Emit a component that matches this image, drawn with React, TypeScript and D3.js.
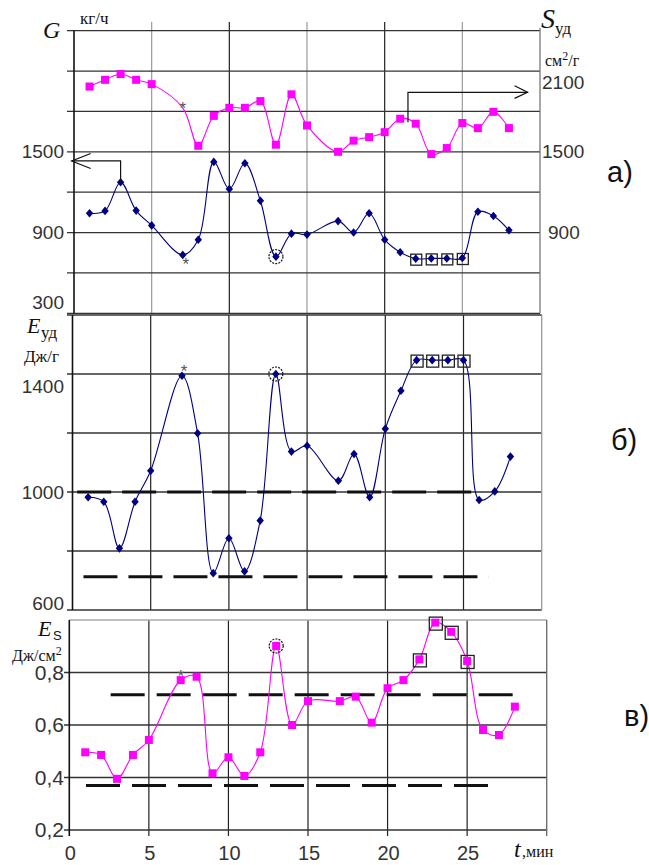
import React from "react";
import * as d3 from "d3";

// minutes at which a point was recorded (no readings at 6 and 16)
const tMin = [1, 2, 3, 4, 5, 7, 8, 9, 10, 11, 12, 13, 14, 15, 17, 18, 19, 20, 21, 22, 23, 24, 25, 26, 27, 28];
// G, кг/ч
const gFlow = [1043, 1061, 1274, 1063, 953, 734, 847, 1425, 1224, 1415, 1136, 721, 892, 885, 985, 900, 1043, 847, 754, 706, 708, 708, 711, 1055, 1023, 917];
// S_уд, см2/г
const sSpec = [1985, 2035, 2078, 2035, 2003, 1827, 1545, 1767, 1827, 1827, 1877, 1553, 1927, 1696, 1500, 1583, 1609, 1646, 1746, 1709, 1483, 1528, 1714, 1676, 1797, 1676];
// E_уд, Дж/г
const eSpec = [982, 967, 809, 967, 1072, 1394, 1199, 725, 843, 731, 903, 1400, 1137, 1157, 1038, 1129, 982, 1214, 1343, 1447, 1447, 1447, 1447, 973, 1002, 1120];
// E_S, Дж/см2
const eSurf = [0.496, 0.486, 0.395, 0.486, 0.543, 0.771, 0.784, 0.416, 0.477, 0.406, 0.496, 0.901, 0.6, 0.691, 0.691, 0.708, 0.609, 0.74, 0.771, 0.85, 0.99, 0.955, 0.844, 0.581, 0.562, 0.67];

const tTicks = [0, 5, 10, 15, 20, 25];
const gLabels = [1500, 900, 300];
const sLabels = [2100, 1500, 900];
const eudLabels = [1400, 1000, 600];
const esLabels = [0.2, 0.4, 0.6, 0.8];

const starT = 7;
const circleT = 13;
const boxT = [22, 23, 24, 25];

// threshold lines (value, from t, to t)
const eudLimits = [1000, 713];
const eudSpans = [[0.3, 26.2], [0.7, 26.6]];
const esLimits = [0.715, 0.37];
const esSpans = [[2.6, 28.1], [1.05, 26.6]];

const NAVY = "#000080";
const MAG = "#ff00ff";
const SANS = "'Liberation Sans', Arial, sans-serif";
const SERIF = "'Liberation Serif', 'Times New Roman', serif";

const comma = d3.formatLocale({ decimal: ",", thousands: " ", grouping: [3], currency: ["", ""] }).format(".1f");

const xA = d3.scaleLinear().domain([0, 30]).range([74, 540]);
const yA = d3.scaleLinear().domain([300, 2400]).range([313.3, 30.7]);
const xB = d3.scaleLinear().domain([0, 30]).range([72.5, 541.7]);
const yB = d3.scaleLinear().domain([600, 1600]).range([610, 315]);
const xC = d3.scaleLinear().domain([0, 30]).range([69.3, 546.7]);
const yC = d3.scaleLinear().domain([0.2, 1.0]).range([830, 620]);

const diamond = "M0,-4.3L3.7,0L0,4.3L-3.7,0Z";

function Series({ x, y, vals, color, kind, skip = [] }) {
  const line = d3.line().x((d) => x(d[0])).y((d) => y(d[1])).curve(d3.curveCatmullRom.alpha(0.5));
  const pts = tMin.map((t, i) => [t, vals[i]]);
  return (
    <g>
      <path d={line(pts)} fill="none" stroke={color} strokeWidth={1.1} />
      {pts.filter((p) => !skip.includes(p[0])).map((p, i) =>
        kind === "sq" ? (
          <rect key={i} x={x(p[0]) - 4} y={y(p[1]) - 4} width={8} height={8} fill={color} />
        ) : (
          <path key={i} d={diamond} transform={`translate(${x(p[0])},${y(p[1])})`} fill={color} />
        )
      )}
    </g>
  );
}

function Marks({ x, y, vals, starDx = 0, starDy = 0, boxSize = 12 }) {
  const at = (t) => vals[tMin.indexOf(t)];
  return (
    <g>
      <text x={x(starT) + starDx} y={y(at(starT)) + starDy + 6} textAnchor="middle" fontFamily={SANS} fontSize={17} fill="#555">*</text>
      <circle cx={x(circleT)} cy={y(at(circleT))} r={7} fill="none" stroke="#111" strokeWidth={1.2} strokeDasharray="2,1.2" />
      {boxT.map((t) => (
        <rect key={t} x={x(t) - boxSize / 2 + 0.5} y={y(at(t)) - boxSize / 2 + 1} width={boxSize} height={boxSize} fill="none" stroke="#222" strokeWidth={1.3} />
      ))}
    </g>
  );
}

function VGrid({ x, top, bottom, colorOf }) {
  return (
    <g>
      {[5, 10, 15, 20, 25].map((t) => (
        <line key={t} x1={x(t)} x2={x(t)} y1={top} y2={bottom} stroke={colorOf(t)} strokeWidth={1.2} />
      ))}
    </g>
  );
}

function HGrid({ y, values, x0, x1 }) {
  return (
    <g>
      {values.map((v) => (
        <line key={v} x1={x0} x2={x1} y1={y(v)} y2={y(v)} stroke="#333" strokeWidth={1.3} />
      ))}
    </g>
  );
}

export default function App() {
  const lblOffA = { 300: -11 };
  const lblOffS = { 2100: 11 };
  const lblOffB = { 1400: 12, 600: -7 };

  // arrow anchors (panel a)
  const g3 = gFlow[tMin.indexOf(3)];
  const arrowL = { x0: xA(3), y0: yA(g3), y1: yA(1432), x1: xA(-0.15) };
  const arrowR = { x0: xA(21.5), y0: yA(1720), y1: yA(1942), x1: xA(29.2) };

  return (
    <svg width={649} height={865} style={{ position: "absolute", left: 0, top: 0, display: "block", background: "#fff" }}>
      {/* ---------- panel а ---------- */}
      <VGrid x={xA} top={22} bottom={313.3} colorOf={(t) => (t % 10 === 0 ? "#222" : "#9a9a9a")} />
      <HGrid y={yA} values={d3.range(300, 2401, 300)} x0={67} x1={540} />
      <line x1={74} x2={74} y1={30.7} y2={313.3} stroke="#111" strokeWidth={1.6} />
      <line x1={540} x2={540} y1={28} y2={313.3} stroke="#777" strokeWidth={1.3} />
      {gLabels.map((v) => (
        <text key={v} x={64} y={yA(v) + (lblOffA[v] || 0)} dy="0.35em" textAnchor="end" fontFamily={SANS} fontSize={19} fill="#333">{v}</text>
      ))}
      {sLabels.map((v) => (
        <text key={v} x={v === 900 ? 548 : 542} y={yA(v) + (lblOffS[v] || 0)} dy="0.35em" fontFamily={SANS} fontSize={19} fill="#333">{v}</text>
      ))}
      <Series x={xA} y={yA} vals={sSpec} color={MAG} kind="sq" skip={[starT]} />
      <Series x={xA} y={yA} vals={gFlow} color={NAVY} kind="dia" />
      <Marks x={xA} y={yA} vals={gFlow} starDx={3} starDy={9} boxSize={11} />
      <text x={xA(starT)} y={yA(sSpec[tMin.indexOf(starT)]) + 6} textAnchor="middle" fontFamily={SANS} fontSize={17} fill="#555">*</text>
      {/* arrows */}
      <path d={`M${arrowL.x0},${arrowL.y0}V${arrowL.y1}H${arrowL.x1}`} fill="none" stroke="#111" strokeWidth={1.2} />
      <path d={`M${arrowL.x1 + 19},${arrowL.y1 - 7.5}L${arrowL.x1},${arrowL.y1}L${arrowL.x1 + 19},${arrowL.y1 + 7.5}`} fill="none" stroke="#111" strokeWidth={1.2} />
      <path d={`M${arrowR.x0},${arrowR.y0}V${arrowR.y1}H${arrowR.x1}`} fill="none" stroke="#111" strokeWidth={1.2} />
      <path d={`M${arrowR.x1 - 13},${arrowR.y1 - 6.5}L${arrowR.x1},${arrowR.y1}L${arrowR.x1 - 13},${arrowR.y1 + 6}`} fill="none" stroke="#111" strokeWidth={1.2} />
      {/* titles */}
      <text x={43} y={38} fontFamily={SERIF} fontStyle="italic" fontSize={24} fill="#111">G</text>
      <text x={80} y={24} fontFamily={SERIF} fontSize={17} fill="#111">кг/ч</text>
      <text x={541} y={28} fontFamily={SERIF} fontStyle="italic" fontSize={28} fill="#111">S</text>
      <text x={555} y={34} fontFamily={SERIF} fontSize={17} fill="#111">уд</text>
      <text x={545} y={66} fontFamily={SERIF} fontSize={16} fill="#111">
        см<tspan dy={-6} fontSize={12}>2</tspan><tspan dy={6}>/г</tspan>
      </text>
      <text x={607} y={182} fontFamily={SANS} fontSize={29} fill="#111">а)</text>

      {/* ---------- panel б ---------- */}
      <VGrid x={xB} top={315} bottom={610} colorOf={() => "#222"} />
      <HGrid y={yB} values={d3.range(600, 1601, 200)} x0={67} x1={541.7} />
      <line x1={72.5} x2={72.5} y1={315} y2={610} stroke="#111" strokeWidth={1.6} />
      <line x1={541.7} x2={541.7} y1={315} y2={610} stroke="#999" strokeWidth={1.3} />
      {eudLabels.map((v) => (
        <text key={v} x={64} y={yB(v) + (lblOffB[v] || 0)} dy="0.35em" textAnchor="end" fontFamily={SANS} fontSize={19} fill="#333">{v}</text>
      ))}
      {eudLimits.map((v, i) => (
        <line key={v} x1={xB(eudSpans[i][0])} x2={xB(eudSpans[i][1])} y1={yB(v)} y2={yB(v)} stroke="#111" strokeWidth={3} strokeDasharray="34,11" />
      ))}
      <Series x={xB} y={yB} vals={eSpec} color={NAVY} kind="dia" />
      <Marks x={xB} y={yB} vals={eSpec} starDx={2} starDy={-5} boxSize={12} />
      <text x={27} y={333} fontFamily={SERIF} fontStyle="italic" fontSize={22} fill="#111">E</text>
      <text x={41} y={338} fontFamily={SERIF} fontSize={17} fill="#111">уд</text>
      <text x={24} y={362} fontFamily={SERIF} fontSize={17} fill="#111">Дж/г</text>
      <text x={611} y={450} fontFamily={SANS} fontSize={29} fill="#111">б)</text>

      {/* ---------- panel в ---------- */}
      <VGrid x={xC} top={620} bottom={836} colorOf={() => "#222"} />
      <HGrid y={yC} values={[0.2, 0.4, 0.6, 0.8]} x0={64} x1={546.7} />
      <line x1={69.3} x2={546.7} y1={620} y2={620} stroke="#aaa" strokeWidth={1.3} />
      <line x1={69.3} x2={69.3} y1={620} y2={836} stroke="#111" strokeWidth={1.6} />
      <line x1={546.7} x2={546.7} y1={620} y2={836} stroke="#666" strokeWidth={1.3} />
      {esLabels.map((v) => (
        <text key={v} x={64} y={yC(v)} dy="0.35em" textAnchor="end" fontFamily={SANS} fontSize={21} fill="#333">{comma(v)}</text>
      ))}
      {tTicks.map((t) => (
        <text key={t} x={xC(t) + 1} y={860} textAnchor="middle" fontFamily={SANS} fontSize={20} fill="#333">{t}</text>
      ))}
      {esLimits.map((v, i) => (
        <line key={v} x1={xC(esSpans[i][0])} x2={xC(esSpans[i][1])} y1={yC(v)} y2={yC(v)} stroke="#111" strokeWidth={3} strokeDasharray="34,12" />
      ))}
      <Series x={xC} y={yC} vals={eSurf} color={MAG} kind="sq" />
      <Marks x={xC} y={yC} vals={eSurf} starDx={0} starDy={-4} boxSize={13} />
      <text x={38} y={636} fontFamily={SERIF} fontStyle="italic" fontSize={22} fill="#111">E</text>
      <text x={53} y={640} fontFamily={SANS} fontSize={13} fill="#111">S</text>
      <text x={12} y={661} fontFamily={SERIF} fontSize={16} fill="#111">
        Дж/см<tspan dy={-6} fontSize={12}>2</tspan>
      </text>
      <text x={514} y={857} fontFamily={SERIF} fontStyle="italic" fontSize={24} fill="#111">t</text>
      <text x={522} y={857} fontFamily={SERIF} fontSize={16} fill="#111">,мин</text>
      <text x={624} y={726} fontFamily={SANS} fontSize={29} fill="#111">в)</text>
    </svg>
  );
}
